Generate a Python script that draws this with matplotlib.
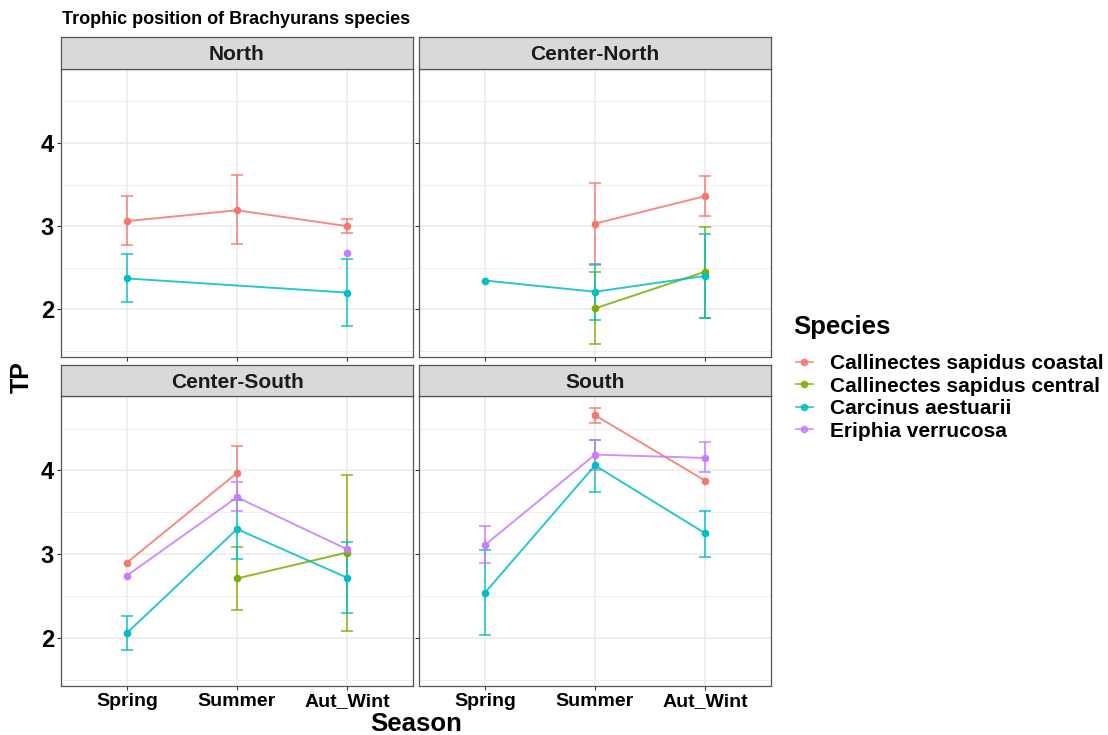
import matplotlib
matplotlib.use("Agg")
import matplotlib.pyplot as plt
from matplotlib.lines import Line2D
import numpy as np

plt.rcParams['font.family'] = ['Liberation Sans', 'DejaVu Sans']

nan = np.nan
seasons = ['Spring', 'Summer', 'Aut_Wint']
regions = ['North', 'Center-North', 'Center-South', 'South']
species = ['Callinectes sapidus coastal', 'Callinectes sapidus central',
           'Carcinus aestuarii', 'Eriphia verrucosa']
colors = ['#F8766D', '#7CAE00', '#00BFC4', '#C77CFF']

# rows = regions, columns = seasons
coastal_tp = [[3.06, 3.19, 3.00], [nan, 3.03, 3.36], [2.90, 3.97, nan], [nan, 4.66, 3.88]]
coastal_lo = [[2.77, 2.78, 2.92], [nan, 2.53, 3.12], [nan, 3.65, nan], [nan, 4.57, nan]]
coastal_hi = [[3.36, 3.62, 3.09], [nan, 3.52, 3.60], [nan, 4.29, nan], [nan, 4.75, nan]]

central_tp = [[nan, nan, nan], [nan, 2.01, 2.45], [nan, 2.71, 3.02], [nan, nan, nan]]
central_lo = [[nan, nan, nan], [nan, 1.58, 1.89], [nan, 2.33, 2.08], [nan, nan, nan]]
central_hi = [[nan, nan, nan], [nan, 2.45, 2.99], [nan, 3.08, 3.95], [nan, nan, nan]]

carcinus_tp = [[2.37, nan, 2.20], [2.345, 2.21, 2.40], [2.06, 3.30, 2.72], [2.54, 4.06, 3.25]]
carcinus_lo = [[2.09, nan, 1.80], [nan, 1.87, 1.90], [1.86, 2.94, 2.30], [2.04, 3.74, 2.97]]
carcinus_hi = [[2.66, nan, 2.61], [nan, 2.545, 2.90], [2.26, 3.65, 3.15], [3.05, 4.37, 3.52]]

eriphia_tp = [[nan, nan, 2.68], [nan, nan, nan], [2.745, 3.68, 3.06], [3.11, 4.19, 4.15]]
eriphia_lo = [[nan, nan, nan], [nan, nan, nan], [nan, 3.51, nan], [2.89, 4.01, 3.98]]
eriphia_hi = [[nan, nan, nan], [nan, nan, nan], [nan, 3.86, nan], [3.34, 4.37, 4.34]]

means = [coastal_tp, central_tp, carcinus_tp, eriphia_tp]
lows = [coastal_lo, central_lo, carcinus_lo, eriphia_lo]
highs = [coastal_hi, central_hi, carcinus_hi, eriphia_hi]

W, H = 1108, 735
fig = plt.figure(figsize=(W / 100, H / 100), dpi=100)


def box(x0, y0, x1, y1):
    return [x0 / W, 1 - y1 / H, (x1 - x0) / W, (y1 - y0) / H]


panel_x = [(61, 413), (419, 771)]
panel_y = [(69, 357), (396, 686)]
strip_y = [(37, 69), (365, 396)]
ylim = (1.425, 4.89)
xpos = np.arange(1, 4)

for r, region in enumerate(regions):
    row, col = divmod(r, 2)
    x0, x1 = panel_x[col]
    y0, y1 = panel_y[row]
    ax = fig.add_axes(box(x0, y0, x1, y1))
    ax.set_xlim(0.4, 3.6)
    ax.set_ylim(*ylim)
    ax.set_xticks(xpos)
    ax.set_yticks([2, 3, 4])
    ax.set_yticks([1.5, 2.5, 3.5, 4.5], minor=True)
    ax.grid(which='major', color='#EBEBEB', linewidth=1.1)
    ax.grid(which='minor', axis='y', color='#EBEBEB', linewidth=0.6)
    ax.set_axisbelow(True)
    for s in ax.spines.values():
        s.set_color('#555555')
        s.set_linewidth(0.9)
    ax.tick_params(which='minor', length=0)
    ax.tick_params(which='major', length=3, color='#333333', width=0.8, pad=2)
    if row == 1:
        ax.set_xticklabels(seasons, fontsize=14, fontweight='bold')
    else:
        ax.set_xticklabels([])
    if col == 0:
        ax.set_yticklabels(['2', '3', '4'], fontsize=17, fontweight='bold')
    else:
        ax.set_yticklabels([])

    for k in range(len(species)):
        m = np.array(means[k][r], dtype=float)
        lo = np.array(lows[k][r], dtype=float)
        hi = np.array(highs[k][r], dtype=float)
        ok = ~np.isnan(lo)
        if ok.any():
            ax.errorbar(xpos[ok], m[ok], yerr=[m[ok] - lo[ok], hi[ok] - m[ok]],
                        fmt='none', ecolor=colors[k], elinewidth=1.2,
                        capsize=4, capthick=1.2, alpha=0.85, zorder=2)
    for k in range(len(species)):
        m = np.array(means[k][r], dtype=float)
        good = ~np.isnan(m)
        ax.plot(xpos[good], m[good], '-', color=colors[k], linewidth=1.4,
                alpha=0.85, zorder=3)
        ax.plot(xpos[good], m[good], 'o', color=colors[k], markersize=5.5,
                markeredgewidth=0, zorder=4)

    sx = fig.add_axes(box(x0, strip_y[row][0], x1, strip_y[row][1]))
    sx.set_facecolor('#D9D9D9')
    sx.set_xticks([])
    sx.set_yticks([])
    for s in sx.spines.values():
        s.set_color('#555555')
        s.set_linewidth(0.9)
    sx.text(0.5, 0.45, region, ha='center', va='center', fontsize=15,
            fontweight='bold', color='#1A1A1A', transform=sx.transAxes)

fig.text(62 / W, 1 - 20 / H, 'Trophic position of Brachyurans species',
         fontsize=13, fontweight='bold', ha='left', va='center')
fig.text(22 / W, 1 - 377 / H, 'TP', fontsize=18, fontweight='bold',
         rotation=90, ha='center', va='center')
fig.text(416 / W, 1 - 724 / H, 'Season', fontsize=18.5, fontweight='bold',
         ha='center', va='center')

# legend
fig.text(793 / W, 1 - 327 / H, 'Species', fontsize=18.5, fontweight='bold',
         ha='left', va='center')
handles = [Line2D([0], [0], color=c, marker='o', markersize=4.5, linewidth=1.2,
                  alpha=0.85) for c in colors]
fig.legend(handles, species, loc='upper left',
           bbox_to_anchor=(796 / W, 1 - 354 / H), frameon=False,
           handlelength=0.8, handletextpad=0.85,
           labelspacing=0.17, borderaxespad=0, borderpad=0,
           prop={'size': 15, 'weight': 'bold'})

fig.savefig('out.png', dpi=100, facecolor='white')
